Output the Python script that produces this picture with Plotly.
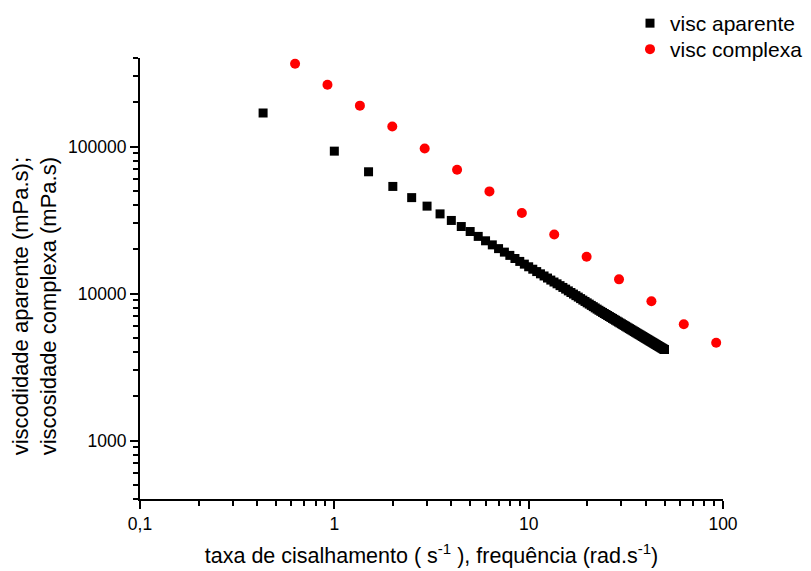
import plotly.graph_objects as go

# visc aparente (shear rate s^-1, mPa.s)
ap_x = [0.43, 1.0, 1.5, 2.0, 2.5, 3.0, 3.5, 4.0, 4.5, 5.0, 5.5, 6.0, 6.5, 7.0, 7.5, 8.0, 8.5, 9.0, 9.5, 10.0,
        10.5, 11.0, 11.5, 12.0, 12.5, 13.0, 13.5, 14.0, 14.5, 15.0, 15.5, 16.0, 16.5, 17.0, 17.5, 18.0, 18.5,
        19.0, 19.5, 20.0, 20.5, 21.0, 21.5, 22.0, 22.5, 23.0, 23.5, 24.0, 24.5, 25.0, 25.5, 26.0, 26.5, 27.0,
        27.5, 28.0, 28.5, 29.0, 29.5, 30.0, 30.5, 31.0, 31.5, 32.0, 32.5, 33.0, 33.5, 34.0, 34.5, 35.0, 35.5,
        36.0, 36.5, 37.0, 37.5, 38.0, 38.5, 39.0, 39.5, 40.0, 40.5, 41.0, 41.5, 42.0, 42.5, 43.0, 43.5, 44.0,
        44.5, 45.0, 45.5, 46.0, 46.5, 47.0, 47.5, 48.0, 48.5, 49.0, 49.5, 50.0]
ap_y = [169000, 93000, 67300, 53500, 44900, 39300, 34800, 31400, 28550, 26400, 24460, 22830, 21420, 20200,
        19120, 18170, 17300, 16530, 15840, 15200, 14630, 14100, 13610, 13160, 12740, 12340, 11970, 11640,
        11310, 11000, 10710, 10420, 10160, 9910, 9670, 9450, 9230, 9020, 8830, 8640, 8470, 8300, 8140, 7980,
        7830, 7690, 7559, 7433, 7313, 7196, 7084, 6975, 6871, 6769, 6671, 6576, 6484, 6395, 6309, 6225, 6144,
        6065, 5988, 5914, 5841, 5771, 5703, 5636, 5571, 5507, 5445, 5386, 5326, 5269, 5214, 5159, 5106, 5053,
        5003, 4953, 4905, 4857, 4810, 4764, 4720, 4676, 4633, 4591, 4550, 4510, 4471, 4432, 4394, 4357, 4320,
        4284, 4249, 4215, 4180, 4160]

# visc complexa (frequency rad.s^-1, mPa.s)
cx_x = [0.628, 0.922, 1.354, 1.987, 2.917, 4.282, 6.283, 9.224, 13.54, 19.87, 29.17, 42.82, 62.83, 92.24]
cx_y = [365500, 263000, 189700, 136700, 96900, 69500, 49500, 35300, 25200, 17770, 12480, 8850, 6185, 4620]

x_tickvals = [0.1, 1, 10, 100]
x_ticktext = ["0,1", "1", "10", "100"]
y_tickvals = [1000, 10000, 100000]
y_ticktext = ["1000", "10000", "100000"]

x_minor = [m * 10 ** e for e in (-1, 0, 1) for m in range(2, 10)]
y_minor = [m * 10 ** e for e in (2, 3, 4, 5) for m in range(2, 10) if 400 <= m * 10 ** e <= 400000]

FONT = "Liberation Sans, Arial, sans-serif"

fig = go.Figure()
fig.add_trace(go.Scatter(x=ap_x, y=ap_y, mode="markers", name="visc aparente", legend="legend",
                         marker=dict(symbol="square", size=9, color="black", line=dict(width=0))))
fig.add_trace(go.Scatter(x=cx_x, y=cx_y, mode="markers", name="visc complexa", legend="legend2",
                         marker=dict(symbol="circle", size=10, color="#ff0000", line=dict(width=0))))

axis_common = dict(showline=True, linecolor="black", linewidth=2, ticks="outside", ticklen=8,
                   tickwidth=1.5, tickcolor="black", showgrid=False, zeroline=False, automargin=False,
                   tickfont=dict(family=FONT, size=17.5, color="black"))

minor_common = dict(tickmode="array", ticks="outside", ticklen=5, tickwidth=1.5, tickcolor="black",
                    showgrid=False)

fig.update_xaxes(type="log", range=[-1, 2], tickmode="array", tickvals=x_tickvals, ticktext=x_ticktext,
                 minor=dict(tickvals=x_minor, **minor_common),
                 title=dict(text="taxa de cisalhamento ( s<sup>-1</sup> ), frequência (rad.s<sup>-1</sup>)",
                            font=dict(family=FONT, size=21.5, color="black"), standoff=15),
                 **axis_common)
fig.update_yaxes(type="log", range=[2.60206, 5.60206], tickmode="array", tickvals=y_tickvals,
                 ticktext=y_ticktext, minor=dict(tickvals=y_minor, **minor_common),
                 **axis_common)

fig.add_annotation(text="viscodidade aparente (mPa.s);<br>viscosidade complexa (mPa.s)",
                   textangle=-90, align="left", xref="paper", yref="paper",
                   x=-0.180, y=0.437, xanchor="center", yanchor="middle", showarrow=False,
                   font=dict(family=FONT, size=22, color="black"))

legend_common = dict(xref="container", yref="container", xanchor="left", yanchor="top",
                     font=dict(family=FONT, size=21, color="black"), bgcolor="rgba(0,0,0,0)",
                     itemsizing="trace")

fig.update_layout(
    width=811, height=571,
    margin=dict(l=140, r=88, t=58, b=72, autoexpand=False),
    paper_bgcolor="white", plot_bgcolor="white",
    separators=",.",
    showlegend=True,
    legend=dict(x=630 / 811, y=1 - 3 / 571, **legend_common),
    legend2=dict(x=630 / 811, y=1 - 29 / 571, **legend_common),
)

fig.write_html("out.html")
